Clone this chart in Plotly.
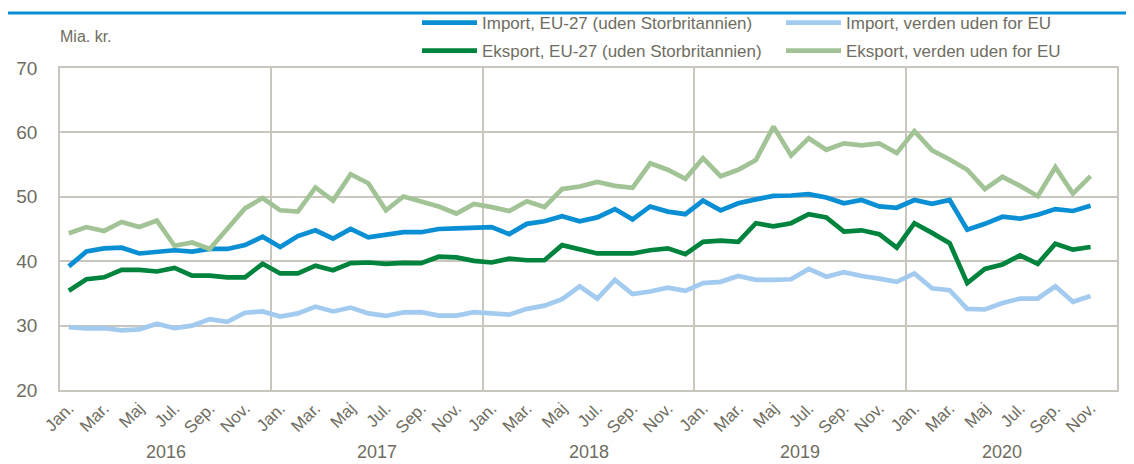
import plotly.graph_objects as go

months = ["Jan.", "Feb.", "Mar.", "Apr.", "Maj", "Jun.", "Jul.", "Aug.", "Sep.", "Okt.", "Nov.", "Dec."]
years = ["2016", "2017", "2018", "2019", "2020"]
n_months = 59

import_eu = [39.2, 41.5, 42.0, 42.1, 41.2, 41.4, 41.7, 41.5, 41.9, 41.9, 42.5, 43.8,
             42.2, 43.9, 44.8, 43.5, 45.0, 43.7, 44.1, 44.5, 44.5, 45.0, 45.1, 45.2,
             45.3, 44.2, 45.8, 46.2, 47.0, 46.2, 46.8, 48.1, 46.5, 48.5, 47.7, 47.3,
             49.4, 47.9, 49.0, 49.6, 50.15, 50.2, 50.4, 49.9, 49.0, 49.5, 48.5, 48.3,
             49.5, 48.9, 49.5, 44.9, 45.8, 46.9, 46.6, 47.2, 48.1, 47.8, 48.6]
import_world = [29.75, 29.55, 29.6, 29.25, 29.4, 30.3, 29.6, 30.0, 31.0, 30.6, 32.0, 32.2,
                31.4, 31.9, 32.95, 32.2, 32.8, 31.9, 31.5, 32.05, 32.1, 31.55, 31.55, 32.1,
                31.9, 31.7, 32.6, 33.1, 34.1, 36.1, 34.2, 37.1, 34.9, 35.3, 35.9, 35.4,
                36.6, 36.8, 37.7, 37.1, 37.1, 37.2, 38.8, 37.6, 38.3, 37.7, 37.3, 36.8,
                38.1, 35.8, 35.5, 32.6, 32.5, 33.5, 34.2, 34.2, 36.1, 33.7, 34.6]
export_eu = [35.4, 37.2, 37.5, 38.65, 38.65, 38.4, 38.95, 37.75, 37.75, 37.5, 37.5, 39.6,
             38.1, 38.1, 39.3, 38.6, 39.7, 39.8, 39.6, 39.75, 39.7, 40.7, 40.6, 40.05,
             39.8, 40.4, 40.15, 40.15, 42.5, 41.8, 41.2, 41.2, 41.2, 41.7, 42.0, 41.1,
             43.0, 43.2, 43.0, 45.9, 45.4, 45.9, 47.3, 46.8, 44.6, 44.8, 44.2, 42.1,
             45.9, 44.4, 42.8, 36.6, 38.8, 39.5, 40.9, 39.6, 42.7, 41.8, 42.2]
export_world = [44.35, 45.3, 44.7, 46.1, 45.3, 46.3, 42.4, 42.9, 41.9, 45.1, 48.2, 49.8,
                47.9, 47.7, 51.45, 49.4, 53.5, 52.1, 47.9, 50.05, 49.2, 48.5, 47.4, 48.9,
                48.4, 47.8, 49.3, 48.4, 51.2, 51.6, 52.3, 51.7, 51.4, 55.2, 54.2, 52.8,
                56.0, 53.2, 54.2, 55.7, 60.9, 56.4, 59.1, 57.3, 58.3, 58.0, 58.3, 56.8,
                60.2, 57.2, 55.8, 54.2, 51.2, 53.1, 51.7, 50.1, 54.6, 50.5, 53.2]

names = ["Import, EU-27 (uden Storbritannien)", "Import, verden uden for EU",
         "Eksport, EU-27 (uden Storbritannien)", "Eksport, verden uden for EU"]
colors = ["#0a8fd4", "#a3cbef", "#00843d", "#a2c395"]

TXT = "#6f6d61"
GRID = "#c9c6bd"
FONT = "Liberation Sans"

OFF = 8  # page body margin
W, H = 1134 - OFF, 464 - OFF
L, R, T, B = 60 - OFF, 17, 68 - OFF, 74
PW, PH = W - L - R, H - T - B


def px_x(p):
    return (p - OFF - L) / PW


def px_y(p):
    return (H - B - (p - OFF)) / PH


x = list(range(n_months))
tickvals = list(range(0, n_months, 2))
ticktext = [months[i % 12] for i in tickvals]

fig = go.Figure()
series = [import_eu, import_world, export_eu, export_world]
legends = ["legend", "legend", "legend2", "legend2"]
for s, nm, c, lg in zip(series, names, colors, legends):
    fig.add_trace(go.Scatter(x=x, y=s, mode="lines", name=nm,
                             line=dict(color=c, width=4.7), legend=lg))

leg_common = dict(orientation="h", xref="paper", yref="paper", xanchor="left",
                  yanchor="middle", font=dict(family=FONT, size=17, color=TXT),
                  bgcolor="rgba(0,0,0,0)", entrywidth=294, itemwidth=55,
                  tracegroupgap=0, itemclick=False)

fig.update_layout(
    width=W, height=H,
    margin=dict(l=L, r=R, t=T, b=B, autoexpand=False),
    paper_bgcolor="white", plot_bgcolor="white",
    showlegend=True,
    legend=dict(x=px_x(417), y=px_y(23), **leg_common),
    legend2=dict(x=px_x(417), y=px_y(51), **leg_common),
    xaxis=dict(range=[-0.5, n_months + 0.5], tickmode="array", tickvals=tickvals,
               ticktext=ticktext, tickangle=-45, showgrid=False, zeroline=False,
               showline=True, linecolor=GRID, linewidth=1.5, mirror=True, ticks="",
               tickfont=dict(family=FONT, size=17, color=TXT),
               minor=dict(tickmode="array", tickvals=[11.5, 23.5, 35.5, 47.5],
                          showgrid=True, gridcolor=GRID, gridwidth=1.5, ticks="")),
    yaxis=dict(range=[20, 70], dtick=10, showgrid=True, gridcolor=GRID, gridwidth=1.5,
               zeroline=False, showline=True, linecolor=GRID, linewidth=1.5, mirror=True,
               ticks="", ticklabelstandoff=17,
               tickfont=dict(family=FONT, size=19, color=TXT)),
)

annotations = [dict(text="Mia. kr.", x=px_x(58), y=px_y(37),
                    xref="paper", yref="paper", xanchor="left", yanchor="middle",
                    showarrow=False, font=dict(family=FONT, size=16, color=TXT))]
for k, yr in enumerate(years):
    start = 12 * k
    end = min(12 * k + 11, n_months - 1)
    annotations.append(dict(text=yr, x=(start + end) / 2, y=px_y(452),
                            xref="x", yref="paper", xanchor="center", yanchor="middle",
                            showarrow=False, font=dict(family=FONT, size=18, color=TXT)))
fig.update_layout(annotations=annotations)

fig.add_shape(type="line", xref="paper", yref="paper",
              x0=px_x(OFF), x1=px_x(1134), y0=px_y(13), y1=px_y(13),
              line=dict(color="#0a8fd4", width=3))

fig.write_html("out.html")
